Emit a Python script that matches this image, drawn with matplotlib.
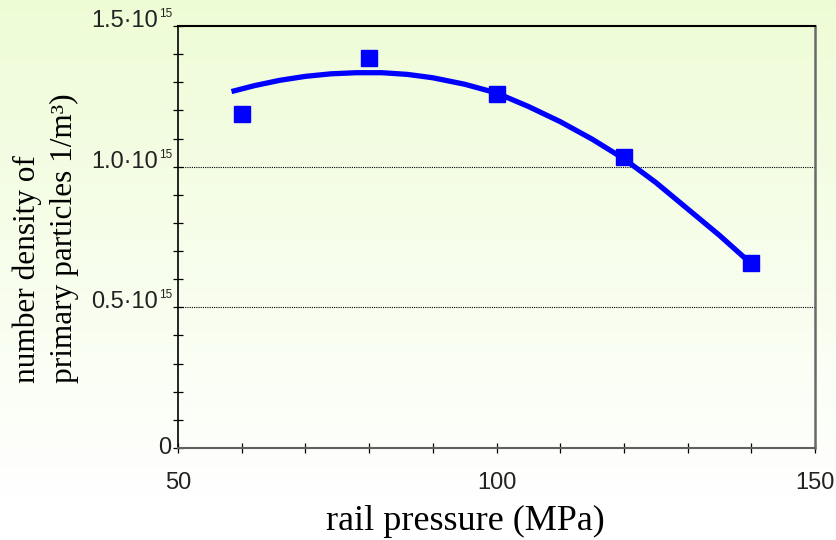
import matplotlib
matplotlib.use('Agg')
import matplotlib.pyplot as plt
import matplotlib.transforms as mtransforms
import numpy as np

# measured points (rail pressure in MPa, number density in 1e15 1/m^3)
pressure = [60, 80, 100, 120, 140]
density = [1.187, 1.386, 1.258, 1.034, 0.658]

# trend curve
curve_x = [58.4, 62.0, 66.0, 70.0, 74.0, 78.0, 82.0, 86.0, 90.0, 95.0, 100.0,
           105.0, 110.0, 115.0, 120.0, 125.0, 130.0, 135.0, 139.4]
curve_y = [1.267, 1.288, 1.307, 1.321, 1.330, 1.334, 1.334, 1.328, 1.316, 1.293,
           1.262, 1.214, 1.160, 1.098, 1.028, 0.944, 0.850, 0.756, 0.667]

ytick_vals = [0, 0.5, 1.0, 1.5]
ytick_main = ['0', '0.5·10', '1.0·10', '1.5·10']
ytick_sup = ['', '15', '15', '15']
xtick_vals = [50, 100, 150]

fig = plt.figure(figsize=(8.36, 5.4), dpi=100)

# light green -> white background gradient
bg = fig.add_axes([0, 0, 1, 1], zorder=-10)
grad = np.linspace(0, 1, 256).reshape(-1, 1)
top = np.array([238, 252, 214]) / 255.0
bot = np.array([255, 255, 255]) / 255.0
t = np.clip(grad / 0.92, 0, 1)
img = top[None, None, :] * (1 - t[:, :, None]) + bot[None, None, :] * t[:, :, None]
bg.imshow(img, aspect='auto', extent=[0, 1, 0, 1], origin='upper')
bg.set_axis_off()

ax = fig.add_axes([178 / 836, 92 / 540, 637 / 836, 422 / 540])
ax.patch.set_alpha(0)

ax.plot(curve_x, curve_y, color='#0000ff', lw=3.8, solid_capstyle='butt',
        solid_joinstyle='round', zorder=3)
ax.plot(pressure, density, ls='none', marker='s', ms=11.5, color='#0000ff',
        mec='#0000ff', zorder=4)

for v in [0.5, 1.0]:
    ax.axhline(v, color='black', lw=0.8, ls=(0, (1, 1)), zorder=1)

ax.set_xlim(50, 150)
ax.set_ylim(0, 1.5)

ax.spines['left'].set_color('black')
ax.spines['left'].set_linewidth(1.2)
ax.spines['top'].set_color('black')
ax.spines['top'].set_linewidth(1.5)
ax.spines['right'].set_color('#6a6a6a')
ax.spines['right'].set_linewidth(1.8)
ax.spines['bottom'].set_color('#606060')
ax.spines['bottom'].set_linewidth(1.5)

ax.set_xticks(xtick_vals)
ax.set_xticks(np.arange(50, 151, 10), minor=True)
ax.set_xticklabels([str(v) for v in xtick_vals], fontsize=17,
                   family='Liberation Sans', color='#222222')
ax.set_yticks(ytick_vals)
ax.set_yticks(np.arange(0, 1.51, 0.1), minor=True)
ax.set_yticklabels([])
ax.tick_params(which='both', direction='inout', length=7, width=0.9, color='black')
ax.tick_params(axis='x', which='major', pad=14)

ytr = ax.get_yaxis_transform()
for v, s, sup in zip(ytick_vals, ytick_main, ytick_sup):
    if sup == '':
        off = mtransforms.ScaledTranslation(-7 / 100, 0, fig.dpi_scale_trans)
        ax.text(0, v, s, transform=ytr + off, ha='right', va='center',
                fontsize=17, family='Liberation Sans', color='#222222')
        continue
    off_sup = mtransforms.ScaledTranslation(-6 / 100, 9 / 100, fig.dpi_scale_trans)
    ax.text(0, v, sup, transform=ytr + off_sup, ha='right', va='baseline',
            fontsize=8.5, family='Liberation Sans', color='#222222')
    off_main = mtransforms.ScaledTranslation(-20 / 100, -1 / 100, fig.dpi_scale_trans)
    ax.text(0, v, s, transform=ytr + off_main, ha='right', va='baseline',
            fontsize=17, family='Liberation Sans', color='#222222')

fig.text(465 / 836, 1 - 521 / 540, 'rail pressure (MPa)', ha='center',
         va='center', fontsize=26, family='Liberation Serif')
fig.text(27 / 836, 1 - 383 / 540, 'number density of', rotation=90,
         ha='center', va='bottom', fontsize=22.5, family='Liberation Serif')
fig.text(64 / 836, 1 - 383 / 540, 'primary particles 1/m³)', rotation=90,
         ha='center', va='bottom', fontsize=22.5, family='Liberation Serif')

fig.savefig('out.png', dpi=100)
